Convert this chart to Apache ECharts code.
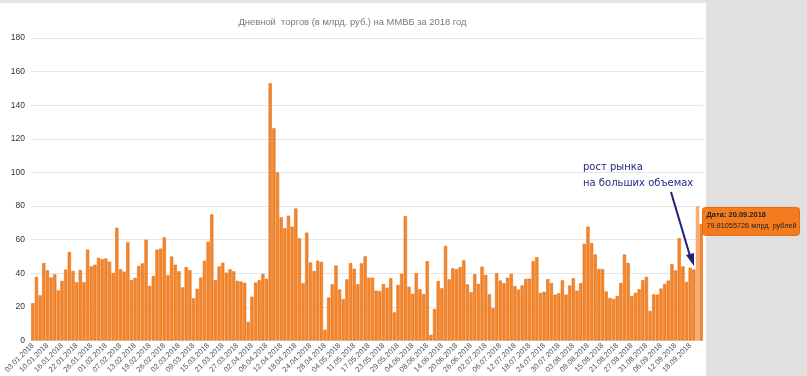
<!DOCTYPE html>
<html><head><meta charset="utf-8">
<script src="https://cdn.jsdelivr.net/npm/echarts@6/dist/echarts.min.js"></script>
<style>html,body{margin:0;padding:0;background:#fff}#c{width:807px;height:376px}</style>
</head><body><div id="c"></div>
<script>
const TITLE = 'Дневной  торгов (в млрд. руб.) на ММВБ за 2018 год';
const ANNOTATION = ['рост рынка', 'на больших объемах'];
const TIP_LABEL = 'Дата: ';
const TIP_UNIT = ' млрд. рублей';
const HIGHLIGHT_INDEX = 182;

const datesJan = ['03.01.2018','04.01.2018','05.01.2018','09.01.2018','10.01.2018','11.01.2018','12.01.2018','15.01.2018','16.01.2018','17.01.2018','18.01.2018','19.01.2018','22.01.2018','23.01.2018','24.01.2018','25.01.2018','26.01.2018','29.01.2018','30.01.2018','31.01.2018'];
const datesFeb = ['01.02.2018','02.02.2018','05.02.2018','06.02.2018','07.02.2018','08.02.2018','09.02.2018','12.02.2018','13.02.2018','14.02.2018','15.02.2018','16.02.2018','19.02.2018','20.02.2018','21.02.2018','22.02.2018','26.02.2018','27.02.2018','28.02.2018'];
const datesMar = ['01.03.2018','02.03.2018','05.03.2018','06.03.2018','07.03.2018','09.03.2018','12.03.2018','13.03.2018','14.03.2018','15.03.2018','16.03.2018','19.03.2018','20.03.2018','21.03.2018','22.03.2018','23.03.2018','26.03.2018','27.03.2018','28.03.2018','29.03.2018','30.03.2018'];
const datesApr = ['02.04.2018','03.04.2018','04.04.2018','05.04.2018','06.04.2018','09.04.2018','10.04.2018','11.04.2018','12.04.2018','13.04.2018','16.04.2018','17.04.2018','18.04.2018','19.04.2018','20.04.2018','23.04.2018','24.04.2018','25.04.2018','26.04.2018','27.04.2018','28.04.2018','30.04.2018'];
const datesMay = ['02.05.2018','03.05.2018','04.05.2018','07.05.2018','08.05.2018','10.05.2018','11.05.2018','14.05.2018','15.05.2018','16.05.2018','17.05.2018','18.05.2018','21.05.2018','22.05.2018','23.05.2018','24.05.2018','25.05.2018','28.05.2018','29.05.2018','30.05.2018','31.05.2018'];
const datesJun = ['01.06.2018','04.06.2018','05.06.2018','06.06.2018','07.06.2018','08.06.2018','09.06.2018','11.06.2018','13.06.2018','14.06.2018','15.06.2018','18.06.2018','19.06.2018','20.06.2018','21.06.2018','22.06.2018','25.06.2018','26.06.2018','27.06.2018','28.06.2018','29.06.2018'];
const datesJul = ['02.07.2018','03.07.2018','04.07.2018','05.07.2018','06.07.2018','09.07.2018','10.07.2018','11.07.2018','12.07.2018','13.07.2018','16.07.2018','17.07.2018','18.07.2018','19.07.2018','20.07.2018','23.07.2018','24.07.2018','25.07.2018','26.07.2018','27.07.2018','30.07.2018','31.07.2018'];
const datesAug = ['01.08.2018','02.08.2018','03.08.2018','06.08.2018','07.08.2018','08.08.2018','09.08.2018','10.08.2018','13.08.2018','14.08.2018','15.08.2018','16.08.2018','17.08.2018','20.08.2018','21.08.2018','22.08.2018','23.08.2018','24.08.2018','27.08.2018','28.08.2018','29.08.2018','30.08.2018','31.08.2018'];
const datesSep = ['03.09.2018','04.09.2018','05.09.2018','06.09.2018','07.09.2018','10.09.2018','11.09.2018','12.09.2018','13.09.2018','14.09.2018','17.09.2018','18.09.2018','19.09.2018','20.09.2018','21.09.2018'];

const volJan = [22.2,37.8,26.9,46.1,41.8,37.5,39.4,29.8,35.5,42.2,52.7,41.4,34.7,42.0,34.7,54.1,44.1,45.1,49.2,48.4];
const volFeb = [48.8,46.9,40.2,67.1,42.4,41.0,58.4,35.9,37.3,44.3,45.9,60.0,32.5,38.4,54.1,54.7,61.4,38.8,50.0];
const volMar = [45.1,41.2,31.6,43.7,41.8,25.1,30.8,37.5,47.5,58.8,75.1,35.9,44.1,46.3,40.4,42.4,41.2,35.5,35.1,34.3,11.0];
const volApr = [26.1,34.5,35.9,39.6,36.7,153.1,126.3,100.0,73.3,66.8,74.3,67.8,78.6,60.8,34.2,64.2,46.4,41.4,47.5,46.8,6.4,25.6];
const volMay = [33.5,44.7,30.4,24.7,36.4,46.1,42.7,33.5,45.9,50.1,37.4,37.4,29.7,29.4,33.6,31.4,37.1,16.7,33.1,39.7,74.0];
const volJun = [32.0,27.8,40.1,30.5,27.6,47.2,3.4,18.8,35.4,31.1,56.2,36.4,43.0,42.5,43.7,47.7,33.4,28.7,39.5,33.7,44.0];
const volJul = [39.0,27.5,19.3,40.1,35.7,34.1,37.4,39.7,32.3,30.3,32.8,36.7,36.8,47.3,49.6,28.3,29.0,36.5,34.2,27.3,28.1,35.8];
const volAug = [27.3,32.8,37.0,29.7,34.1,57.6,67.8,57.9,51.2,42.5,42.5,29.2,25.3,24.7,26.5,34.3,51.2,46.2,26.5,28.4,30.5,35.9,37.9];
const volSep = [17.6,27.5,27.3,30.9,33.7,35.7,45.4,41.7,60.9,44.1,34.9,43.3,42.2,79.81055726,69.3];

const dates = [].concat(datesJan,datesFeb,datesMar,datesApr,datesMay,datesJun,datesJul,datesAug,datesSep);
const volumes = [].concat(volJan,volFeb,volMar,volApr,volMay,volJun,volJul,volAug,volSep);

const chart = echarts.init(document.getElementById('c'), null, {renderer:'canvas'});
const FONT = 'Liberation Sans, Arial, sans-serif';
const barData = volumes.map((v,i)=> i===HIGHLIGHT_INDEX ? {value:v, itemStyle:{color:'#f9ad73', borderColor:'#f49a55'}} : v);

chart.setOption({
  animation:false,
  grid:{left:31, right:104, top:38, bottom:33},
  xAxis:{type:'category', data:dates,
    axisLabel:{interval:3, rotate:45, fontSize:7.5, color:'#555', margin:4, fontFamily:FONT},
    axisTick:{show:false}, axisLine:{lineStyle:{color:'#e6e6e6'}}},
  yAxis:{type:'value', min:0, max:180, interval:20,
    axisLabel:{fontSize:8.5, color:'#333', margin:6, fontFamily:FONT},
    splitLine:{lineStyle:{color:'#e6e6e6'}}, axisLine:{show:false}, axisTick:{show:false}},
  series:[{type:'bar', data:barData, barCategoryGap:'10%',
    itemStyle:{color:'#f5862a', borderColor:'#e5711a', borderWidth:0.6}}]
});

const p = chart.convertToPixel({xAxisIndex:0, yAxisIndex:0}, [HIGHLIGHT_INDEX, volumes[HIGHLIGHT_INDEX]]);
const tx = p[0] + 5, ty = p[1] + 1;

chart.setOption({graphic:[
  {type:'rect', shape:{x:0,y:0,width:706,height:3}, style:{fill:'#e4e4e4'}, silent:true},
  {type:'rect', shape:{x:706,y:0,width:101,height:376}, style:{fill:'#e0e0e0'}, silent:true},
  {type:'text', x:352.5, y:22, style:{text:TITLE, fill:'#7a7a7a', font:'9.4px '+FONT, textAlign:'center', textVerticalAlign:'middle'}},
  {type:'text', x:583, y:167, style:{text:ANNOTATION[0], fill:'#232a83', font:'10px DejaVu Sans, sans-serif', textVerticalAlign:'middle'}},
  {type:'text', x:583, y:183, style:{text:ANNOTATION[1], fill:'#232a83', font:'10px DejaVu Sans, sans-serif', textVerticalAlign:'middle'}},
  {type:'line', shape:{x1:671,y1:192,x2:690,y2:256}, style:{stroke:'#1d2275', lineWidth:2}},
  {type:'polygon', shape:{points:[[694,266],[686,255],[694,253]]}, style:{fill:'#1d2275'}},
  {type:'rect', z:100, shape:{x:tx,y:ty,width:97,height:28,r:3}, style:{fill:'#f47c1e', stroke:'#e06a12', lineWidth:1}},
  {type:'text', z:101, x:tx+4, y:ty+8, style:{text:TIP_LABEL+dates[HIGHLIGHT_INDEX], fill:'#222', font:'bold 7.5px '+FONT, textVerticalAlign:'middle'}},
  {type:'text', z:101, x:tx+4, y:ty+19, style:{text:volumes[HIGHLIGHT_INDEX]+TIP_UNIT, fill:'#222', font:'7.3px '+FONT, textVerticalAlign:'middle'}}
]});
</script></body></html>
